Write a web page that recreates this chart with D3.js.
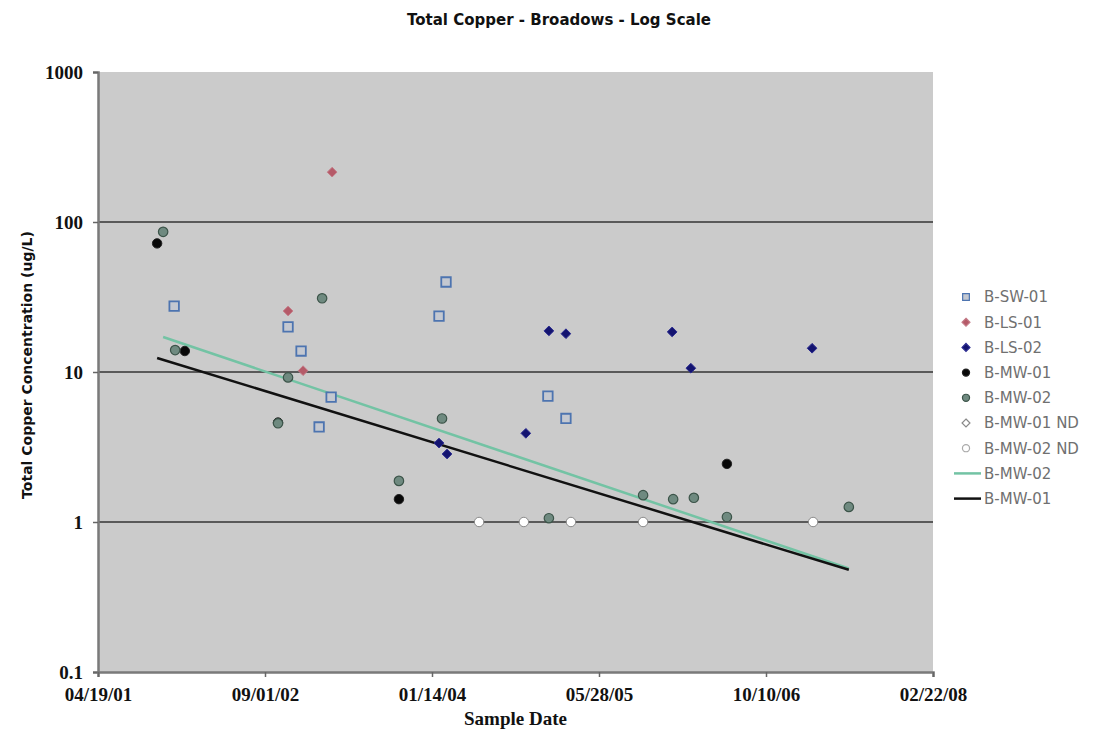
<html>
<head>
<script src="https://cdn.jsdelivr.net/npm/d3@7"></script>
<style>
  * { margin: 0; padding: 0; }
  body { background: #fff; }
  .tick text { font-family: "Liberation Serif", serif; font-weight: bold; font-size: 19px; fill: #111; }
</style>
</head>
<body>
<div id="chart"></div>
<script>
// sample dates (yyyy-mm-dd) and total copper, ug/L
const swDates = ["2001-12-03", "2002-11-09", "2002-12-18", "2003-02-10", "2003-03-18", "2004-02-04", "2004-02-25", "2004-12-26", "2005-02-18"];
const swVals = [27.5, 20, 13.8, 4.3, 6.8, 23.6, 39.8, 6.9, 4.9];

const ls1Dates = ["2002-11-09", "2002-12-24", "2003-03-21"];
const ls1Vals = [25.5, 10.2, 215];

const ls2Dates = ["2004-02-04", "2004-02-28", "2004-10-21", "2004-12-29", "2005-02-18", "2006-01-02", "2006-02-27", "2007-02-25"];
const ls2Vals = [3.36, 2.84, 3.9, 18.8, 18.0, 18.5, 10.6, 14.4];

const mw1Dates = ["2001-10-13", "2002-01-04", "2002-10-10", "2003-10-07", "2006-06-15"];
const mw1Vals = [72, 13.8, 4.6, 1.42, 2.44];

const mw2Dates = ["2001-10-31", "2001-12-06", "2002-10-10", "2002-11-09", "2003-02-19", "2003-10-07", "2004-02-13", "2004-12-29", "2005-10-07", "2006-01-05", "2006-03-08", "2006-06-15", "2007-06-15"];
const mw2Vals = [86, 14, 4.55, 9.2, 31, 1.88, 4.9, 1.06, 1.51, 1.42, 1.45, 1.08, 1.26];

const mw1NdDates = ["2004-06-03", "2005-03-05", "2007-02-28"];
const mw1NdVals = [1, 1, 1];
const mw2NdDates = ["2004-10-15", "2005-10-07"];
const mw2NdVals = [1, 1];

// exponential trend lines (ends)
const mw2TrendDates = ["2001-10-31", "2007-06-15"];
const mw2TrendVals = [17.1, 0.49];
const mw1TrendDates = ["2001-10-13", "2007-06-15"];
const mw1TrendVals = [12.4, 0.48];

const xTickDates = ["2001-04-19", "2002-09-01", "2004-01-14", "2005-05-28", "2006-10-10", "2008-02-22"];
const yTickVals = [0.1, 1, 10, 100, 1000];
const gridVals = [1, 10, 100];

const legendLabels = ["B-SW-01", "B-LS-01", "B-LS-02", "B-MW-01", "B-MW-02", "B-MW-01 ND", "B-MW-02 ND", "B-MW-02", "B-MW-01"];

const parse = d3.timeParse("%Y-%m-%d");
const zip = (ds, vs) => ds.map((d, i) => ({ date: parse(d), v: vs[i] }));

const w = 1100, h = 731;
const pLeft = 98, pRight = 933, pTop = 72, pBottom = 672;

const svg = d3.select("#chart").append("svg")
  .attr("width", w).attr("height", h);

const x = d3.scaleTime()
  .domain([parse(xTickDates[0]), parse(xTickDates[xTickDates.length - 1])])
  .range([pLeft, pRight]);
const y = d3.scaleLog().domain([0.1, 1000]).range([pBottom, pTop]);

// plot area
svg.append("rect")
  .attr("x", pLeft).attr("y", pTop)
  .attr("width", pRight - pLeft).attr("height", pBottom - pTop)
  .attr("fill", "#cbcbcb");

svg.append("g").selectAll("line")
  .data(gridVals).enter().append("line")
  .attr("x1", pLeft).attr("x2", pRight)
  .attr("y1", d => y(d)).attr("y2", d => y(d))
  .attr("stroke", "#5a5a5a").attr("stroke-width", 2);

const yAxis = svg.append("g")
  .attr("transform", "translate(" + pLeft + ",0)")
  .call(d3.axisLeft(y).tickValues(yTickVals).tickFormat(d => String(d)).tickSize(5).tickPadding(10));
const xAxis = svg.append("g")
  .attr("transform", "translate(0," + pBottom + ")")
  .call(d3.axisBottom(x).tickValues(xTickDates.map(parse)).tickFormat(d3.timeFormat("%m/%d/%y")).tickSize(5).tickPadding(11));
[yAxis, xAxis].forEach(a => {
  a.select(".domain").attr("stroke", "#7a7a7a").attr("stroke-width", 2.5);
  a.selectAll(".tick line").attr("stroke", "#666").attr("stroke-width", 1.5);
});

// trend lines
const line = d3.line().x(d => x(d.date)).y(d => y(d.v));
svg.append("path").datum(zip(mw2TrendDates, mw2TrendVals))
  .attr("d", line).attr("fill", "none")
  .attr("stroke", "#73c3a4").attr("stroke-width", 2.5);
svg.append("path").datum(zip(mw1TrendDates, mw1TrendVals))
  .attr("d", line).attr("fill", "none")
  .attr("stroke", "#111").attr("stroke-width", 2.5);

// markers
const square = d3.symbol().type(d3.symbolSquare).size(90);
const diamond = d3.symbol().type(d3.symbolDiamond2).size(60);
const dot = d3.symbol().type(d3.symbolCircle).size(70);

const series = [
  { data: zip(swDates, swVals), sym: square, fill: "#c4c8d0", stroke: "#4d74b0", sw: 1.8 },
  { data: zip(ls1Dates, ls1Vals), sym: diamond, fill: "#b55a68", stroke: "#c47c88", sw: 1 },
  { data: zip(ls2Dates, ls2Vals), sym: diamond, fill: "#141470", stroke: "#2a2a90", sw: 1 },
  { data: zip(mw1Dates, mw1Vals), sym: dot, fill: "#080808", stroke: "#222", sw: 1 },
  { data: zip(mw2Dates, mw2Vals), sym: dot, fill: "#6f8a80", stroke: "#3c5449", sw: 1.2 },
  { data: zip(mw1NdDates, mw1NdVals), sym: dot, fill: "#fff", stroke: "#8a8a8a", sw: 1 },
  { data: zip(mw2NdDates, mw2NdVals), sym: dot, fill: "#fff", stroke: "#8a8a8a", sw: 1 }
];

series.forEach(s => {
  svg.append("g").selectAll("path")
    .data(s.data).enter().append("path")
    .attr("d", s.sym)
    .attr("transform", d => "translate(" + x(d.date) + "," + y(d.v) + ")")
    .attr("fill", s.fill).attr("stroke", s.stroke).attr("stroke-width", s.sw);
});

// titles
svg.append("text")
  .attr("x", 559).attr("y", 25)
  .attr("text-anchor", "middle")
  .style("font-family", "DejaVu Sans").style("font-weight", "bold").style("font-size", "15px")
  .attr("fill", "#111")
  .text("Total Copper - Broadows - Log Scale");

svg.append("text")
  .attr("transform", "translate(32,365) rotate(-90)")
  .attr("text-anchor", "middle")
  .style("font-family", "DejaVu Sans").style("font-weight", "bold").style("font-size", "14px")
  .attr("fill", "#111")
  .text("Total Copper Concentration (ug/L)");

svg.append("text")
  .attr("x", (pLeft + pRight) / 2).attr("y", 725)
  .attr("text-anchor", "middle")
  .style("font-family", "Liberation Serif").style("font-weight", "bold").style("font-size", "19px")
  .attr("fill", "#111")
  .text("Sample Date");

// legend
const legend = svg.append("g");
const legendSyms = [
  { type: d3.symbolSquare, size: 45, fill: "#c4c8d0", stroke: "#4d74b0" },
  { type: d3.symbolDiamond2, size: 40, fill: "#b55a68", stroke: "#c47c88" },
  { type: d3.symbolDiamond2, size: 40, fill: "#141470", stroke: "#2a2a90" },
  { type: d3.symbolCircle, size: 40, fill: "#080808", stroke: "#222" },
  { type: d3.symbolCircle, size: 40, fill: "#6f8a80", stroke: "#3c5449" },
  { type: d3.symbolDiamond2, size: 40, fill: "#fff", stroke: "#8a8a8a" },
  { type: d3.symbolCircle, size: 40, fill: "#fff", stroke: "#aaa" },
  { line: "#73c3a4" },
  { line: "#111" }
];
legendLabels.forEach((lab, i) => {
  const ly = 297 + i * 25.2;
  const m = legendSyms[i];
  if (m.line) {
    legend.append("line")
      .attr("x1", 954).attr("x2", 981).attr("y1", ly).attr("y2", ly)
      .attr("stroke", m.line).attr("stroke-width", 2.5);
  } else {
    legend.append("path")
      .attr("d", d3.symbol().type(m.type).size(m.size)())
      .attr("transform", "translate(966," + ly + ")")
      .attr("fill", m.fill).attr("stroke", m.stroke).attr("stroke-width", 1.2);
  }
  legend.append("text")
    .attr("x", 984).attr("y", ly).attr("dy", "0.36em")
    .style("font-family", "DejaVu Sans").style("font-size", "15px")
    .attr("fill", "#707070")
    .text(lab);
});
</script>
</body>
</html>
